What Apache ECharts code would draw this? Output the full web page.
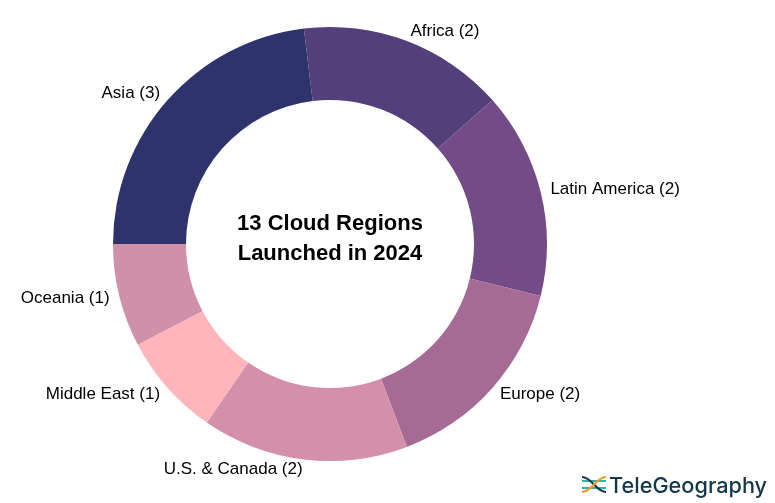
<!DOCTYPE html>
<html>
<head>
<meta charset="utf-8">
<style>
  html, body { margin: 0; padding: 0; background: #fff; }
  #chartContainer { width: 775px; height: 503px; }
</style>
<script src="https://cdn.jsdelivr.net/npm/echarts@6/dist/echarts.min.js"></script>
</head>
<body>
<div id="chartContainer"></div>
<script>
// Regions in clockwise order, starting from Africa
const regionNames = ['Africa', 'Latin America', 'Europe', 'U.S. & Canada', 'Middle East', 'Oceania', 'Asia'];
const regionCounts = [2, 2, 2, 2, 1, 1, 3];
const regionColors = ['#53407a', '#734b87', '#a56b95', '#d48faa', '#ffb5ba', '#cf90a9', '#2f336b'];

const centerTitle = '13 Cloud Regions\nLaunched in 2024';
const logoText = 'TeleGeography';

const labelFont = '"Liberation Sans", Arial, sans-serif';

const pieData = regionNames.map(function(name, i) {
  return { name: name, value: regionCounts[i], itemStyle: { color: regionColors[i] } };
});

const chartInstance = echarts.init(document.getElementById('chartContainer'));

chartInstance.setOption({
  animation: false,
  backgroundColor: '#ffffff',
  series: [{
    type: 'pie',
    center: [330, 244],
    radius: [144, 217],
    startAngle: 96.92,
    clockwise: true,
    silent: true,
    data: pieData,
    label: {
      show: true,
      position: 'outside',
      formatter: '{b} ({c})',
      color: '#000000',
      fontFamily: labelFont,
      fontSize: 17,
      distanceToLabelLine: 0
    },
    labelLine: { show: false, length: 10, length2: 0 }
  }],
  graphic: [
    {
      type: 'text',
      style: {
        x: 330, y: 239,
        text: centerTitle,
        textAlign: 'center',
        textVerticalAlign: 'middle',
        fontFamily: labelFont,
        fontWeight: 'bold',
        fontSize: 22,
        lineHeight: 30,
        fill: '#000000'
      }
    },
    // logo
    {
      type: 'text',
      style: {
        x: 609, y: 486,
        text: logoText,
        textVerticalAlign: 'middle',
        fontFamily: 'Inter, "Open Sans", sans-serif',
        fontWeight: 500,
        fontSize: 21.7,
        fill: '#12384a'
      }
    },
    { type: 'line', shape: { x1: 582, y1: 481, x2: 606, y2: 481 }, style: { stroke: '#27b5ad', lineWidth: 2 } },
    { type: 'line', shape: { x1: 582, y1: 488, x2: 606, y2: 488 }, style: { stroke: '#27b5ad', lineWidth: 2 } },
    { type: 'bezierCurve', shape: { x1: 582, y1: 477, cpx1: 592, cpy1: 477, cpx2: 596, cpy2: 492, x2: 606, y2: 492 }, style: { fill: 'none', stroke: '#12384a', lineWidth: 2.2 } },
    { type: 'bezierCurve', shape: { x1: 582, y1: 492, cpx1: 592, cpy1: 492, cpx2: 596, cpy2: 477, x2: 606, y2: 477 }, style: { fill: 'none', stroke: '#f39a1f', lineWidth: 2.2 } }
  ]
});
</script>
</body>
</html>
